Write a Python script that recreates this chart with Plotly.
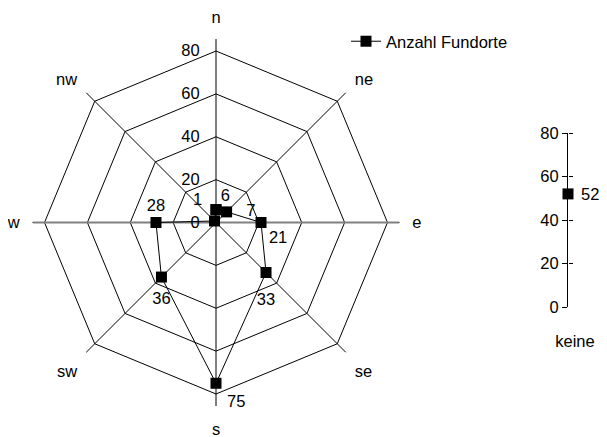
import plotly.graph_objects as go

# data
directions = ["n", "ne", "e", "se", "s", "sw", "w", "nw"]
fundorte = [6, 7, 21, 33, 75, 36, 28, 1]
label_pos = ["top right", "middle right", "bottom right", "bottom center",
             "bottom right", "bottom center", "top center", "top left"]
# invisible marker sizes, only used to push the value labels away from the points
label_gap = [6, 30, 11, 30, 16, 22, 11, 18]
keine_cat = ["keine"]
keine_val = [52]
radial_ticks = [0, 20, 40, 60, 80]

FONT = "Liberation Sans"
FS = 16.5
R_MAX = 85.6

# page body has an 8px margin, so the figure is a bit smaller than the window
W, H = 599, 429
OFF = 8


def px(x):
    return (x - OFF) / W


def py(y):
    return 1 - (y - OFF) / H


fig = go.Figure()

# grey e-w axis line (like the excel category axis)
fig.add_trace(go.Scatterpolar(
    r=[R_MAX, R_MAX], theta=["w", "e"], mode="lines",
    line=dict(color="#808080", width=2), showlegend=False, hoverinfo="skip",
))

# closed polygon of the values
fig.add_trace(go.Scatterpolar(
    r=fundorte + fundorte[:1],
    theta=directions + directions[:1],
    mode="lines+markers",
    line=dict(color="black", width=1),
    marker=dict(symbol="square", size=11, color="black", line=dict(width=0)),
    name="Anzahl Fundorte",
    cliponaxis=False,
))

# value labels
fig.add_trace(go.Scatterpolar(
    r=fundorte, theta=directions,
    mode="markers+text",
    text=[str(v) for v in fundorte],
    textposition=label_pos,
    textfont=dict(family=FONT, size=FS, color="black"),
    marker=dict(size=label_gap, color="rgba(0,0,0,0)", line=dict(width=0)),
    showlegend=False, hoverinfo="skip", cliponaxis=False,
))

# separate scale for "keine"
fig.add_trace(go.Scatter(
    x=keine_cat, y=keine_val, xaxis="x2", yaxis="y2",
    mode="markers",
    marker=dict(symbol="square", size=11, color="black", line=dict(width=0)),
    showlegend=False, cliponaxis=False,
))
for cat, val in zip(keine_cat, keine_val):
    fig.add_annotation(
        x=cat, y=val, xref="x2", yref="y2", text=str(val),
        showarrow=False, xanchor="left", yanchor="middle", xshift=11,
        font=dict(family=FONT, size=FS, color="black"),
    )
# invisible trace so the right-hand tick half is drawn
fig.add_trace(go.Scatter(
    x=keine_cat, y=keine_val, xaxis="x2", yaxis="y3",
    mode="markers", marker=dict(opacity=0), showlegend=False, hoverinfo="skip",
))

x_ax = px(568)

fig.update_layout(
    template="none",
    width=W, height=H,
    margin=dict(l=0, r=0, t=0, b=0),
    paper_bgcolor="white", plot_bgcolor="white",
    font=dict(family=FONT, size=FS, color="black"),
    polar=dict(
        domain=dict(x=[px(32.5), px(399.5)], y=[py(406), py(39)]),
        bgcolor="white",
        gridshape="linear",
        angularaxis=dict(
            categoryarray=directions, categoryorder="array",
            direction="clockwise", rotation=90,
            showline=False, ticks="outside", ticklen=9,
            tickcolor="rgba(0,0,0,0)",
            gridcolor="black", gridwidth=1,
            tickfont=dict(family=FONT, size=FS),
        ),
        radialaxis=dict(
            range=[0, R_MAX], tickvals=radial_ticks,
            angle=90, tickangle=90, side="counterclockwise",
            showline=False, ticks="outside", ticklen=10,
            tickcolor="rgba(0,0,0,0)",
            gridcolor="black", gridwidth=1,
            tickfont=dict(family=FONT, size=FS),
        ),
    ),
    xaxis2=dict(
        domain=[x_ax, 1.0], anchor="y2", type="category",
        range=[0, 1], showline=False, showgrid=False, zeroline=False,
        ticks="", ticklabelshift=7, ticklabelstandoff=22, automargin=False,
    ),
    yaxis2=dict(
        domain=[py(307), py(133)], anchor="x2",
        range=[0, 80], tickvals=radial_ticks,
        showline=True, linecolor="black", linewidth=1,
        ticks="outside", ticklen=5, tickcolor="black",
        showgrid=False, zeroline=False, automargin=False,
    ),
    yaxis3=dict(
        overlaying="y2", anchor="free", position=x_ax, side="right",
        range=[0, 80], tickvals=[20, 40, 60, 80],
        showticklabels=False, showline=False,
        ticks="outside", ticklen=4, tickcolor="black",
        showgrid=False, zeroline=False, automargin=False,
    ),
    legend=dict(
        x=px(346), y=py(24), xanchor="left", yanchor="top",
        bgcolor="rgba(0,0,0,0)", font=dict(family=FONT, size=FS),
        itemwidth=30,
    ),
)

fig.write_html("out.html")
